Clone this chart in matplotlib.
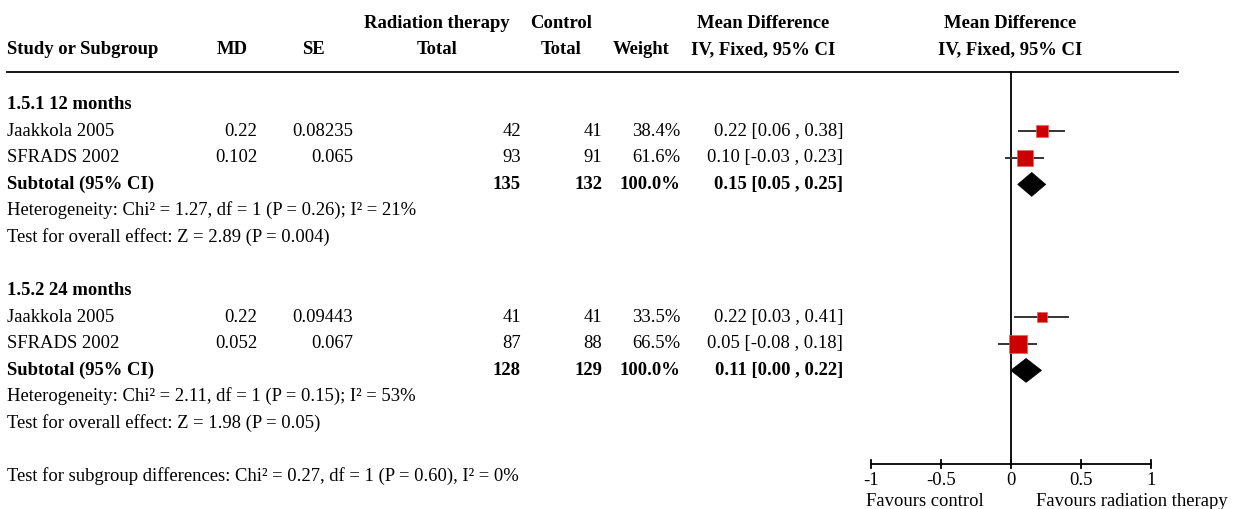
import matplotlib.pyplot as plt
import matplotlib.transforms as mtransforms
from matplotlib.patches import Polygon

plt.rcParams['font.family'] = ['Liberation Serif', 'DejaVu Serif']
plt.rcParams['font.size'] = 13.4

# ---- data ----
studies = ['Jaakkola 2005', 'SFRADS 2002', 'Jaakkola 2005', 'SFRADS 2002']
md = ['0.22', '0.102', '0.22', '0.052']
se = ['0.08235', '0.065', '0.09443', '0.067']
n_rt = [42, 93, 41, 87]
n_ctrl = [41, 91, 41, 88]
weight = [38.4, 61.6, 33.5, 66.5]
est = [0.22, 0.10, 0.22, 0.05]
lo = [0.06, -0.03, 0.03, -0.08]
hi = [0.38, 0.23, 0.41, 0.18]
study_rows = [1, 2, 8, 9]

groups = ['1.5.1 12 months', '1.5.2 24 months']
group_rows = [0, 7]
sub_rt = [135, 128]
sub_ctrl = [132, 129]
sub_est = [0.15, 0.11]
sub_lo = [0.05, 0.00]
sub_hi = [0.25, 0.22]
het_text = ['Heterogeneity: Chi² = 1.27, df = 1 (P = 0.26); I² = 21%',
            'Heterogeneity: Chi² = 2.11, df = 1 (P = 0.15); I² = 53%']
effect_text = ['Test for overall effect: Z = 2.89 (P = 0.004)',
               'Test for overall effect: Z = 1.98 (P = 0.05)']
subgroup_text = 'Test for subgroup differences: Chi² = 0.27, df = 1 (P = 0.60), I² = 0%'
xticks = [-1, -0.5, 0, 0.5, 1]
xticklabels = ['-1', '-0.5', '0', '0.5', '1']

# ---- layout (pixels) ----
W, H = 1235, 510
row0_px, row_h = 105.7, 26.57
x0_px, unit_px = 1010.7, 140.0
base_off = 3.4 / row_h  # text baseline sits a little below the mark centre


def prow(px):
    return (px - row0_px) / row_h


fig = plt.figure(figsize=(W / 100, H / 100), dpi=100)
ax = fig.add_axes([0, 0, 1, 1])
ax.set_xlim(-x0_px / unit_px, (W - x0_px) / unit_px)
ax.set_ylim(prow(H), prow(0))
ax.axis('off')

# x in pixels, y in rows
tp = mtransforms.blended_transform_factory(
    mtransforms.Affine2D().scale(1 / W, 1) + ax.transAxes, ax.transData)


def put(x, r, s, ha='left', bold=False):
    ax.text(x, r + base_off, s, transform=tp, ha=ha, va='baseline',
            fontweight='bold' if bold else 'normal')


# headers
hdr1, hdr2 = prow(27.5) - base_off, prow(54.5) - base_off
for x, s in [(437, 'Radiation therapy'), (561, 'Control'), (763, 'Mean Difference'),
             (1010, 'Mean Difference')]:
    put(x, hdr1, s, ha='center', bold=True)
put(7, hdr2, 'Study or Subgroup', bold=True)
for x, s in [(232, 'MD'), (313, 'SE'), (437, 'Total'), (561, 'Total'), (641, 'Weight'),
             (763, 'IV, Fixed, 95% CI'), (1010, 'IV, Fixed, 95% CI')]:
    put(x, hdr2, s, ha='center', bold=True)
line_row = prow(72.7)
ax.plot([7, 1178], [line_row, line_row], transform=tp, color='black', lw=1.3)

# group blocks
for g in range(2):
    r = group_rows[g]
    put(7, r, groups[g], bold=True)
    put(7, r + 3, 'Subtotal (95% CI)', bold=True)
    put(521, r + 3, str(sub_rt[g]), ha='right', bold=True)
    put(602, r + 3, str(sub_ctrl[g]), ha='right', bold=True)
    put(680, r + 3, '100.0%', ha='right', bold=True)
    put(843, r + 3, f'{sub_est[g]:.2f} [{sub_lo[g]:.2f} , {sub_hi[g]:.2f}]', ha='right', bold=True)
    put(7, r + 4, het_text[g])
    put(7, r + 5, effect_text[g])
    dh = 0.45
    ax.add_patch(Polygon([(sub_lo[g], r + 3), (sub_est[g], r + 3 - dh),
                          (sub_hi[g], r + 3), (sub_est[g], r + 3 + dh)],
                         closed=True, facecolor='black', edgecolor='black', lw=0.5, zorder=4))
put(7, 14, subgroup_text)

# studies
for i in range(len(studies)):
    r = study_rows[i]
    put(7, r, studies[i])
    put(257, r, md[i], ha='right')
    put(353, r, se[i], ha='right')
    put(521, r, str(n_rt[i]), ha='right')
    put(602, r, str(n_ctrl[i]), ha='right')
    put(680, r, f'{weight[i]:.1f}%', ha='right')
    put(843, r, f'{est[i]:.2f} [{lo[i]:.2f} , {hi[i]:.2f}]', ha='right')
    ax.plot([lo[i], hi[i]], [r, r], color='#333333', lw=1.4, zorder=3)
    side_px = 3.72 + 0.2155 * weight[i]
    ax.plot(est[i], r, marker='s', ms=side_px * 0.72, color='#CC0000',
            markeredgecolor='#E06060', markeredgewidth=0.5, zorder=5)

# zero line and axis
axis_row = prow(465)
ax.plot([0, 0], [line_row, axis_row], color='black', lw=1.3, zorder=2)
ax.plot([xticks[0], xticks[-1]], [axis_row, axis_row], color='black', lw=1.3)
tick_h = 4 / row_h
for t, lab in zip(xticks, xticklabels):
    ax.plot([t, t], [axis_row - tick_h, axis_row + tick_h], color='black', lw=1.3)
    ax.text(t, prow(485), lab, ha='center', va='baseline')
ax.text(-0.61, prow(506), 'Favours control', ha='center', va='baseline')
ax.text(0.866, prow(506), 'Favours radiation therapy', ha='center', va='baseline')

fig.savefig('out.png', dpi=100)
